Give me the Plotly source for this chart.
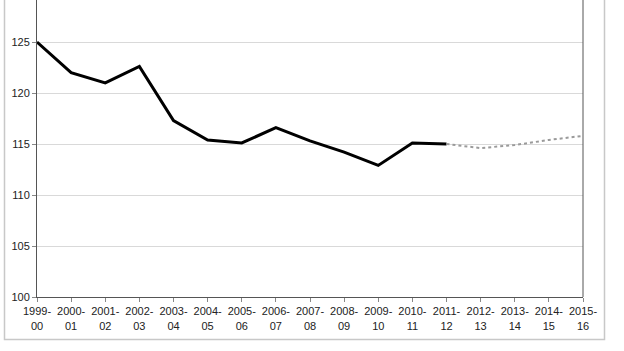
import plotly.graph_objects as go

years = ["1999-00", "2000-01", "2001-02", "2002-03", "2003-04", "2004-05", "2005-06",
         "2006-07", "2007-08", "2008-09", "2009-10", "2010-11", "2011-12", "2012-13",
         "2013-14", "2014-15", "2015-16"]
actual = [125.0, 122.0, 121.0, 122.6, 117.3, 115.4, 115.1, 116.6, 115.3, 114.2, 112.9, 115.1, 115.0]
projected = [115.0, 114.6, 114.9, 115.4, 115.8]
y_ticks = [100, 105, 110, 115, 120, 125]

x_idx = list(range(len(years)))
ticktext = [y.replace("-", "-<br>") for y in years]

fig = go.Figure()
fig.add_trace(go.Scatter(x=x_idx[:len(actual)], y=actual, mode="lines",
                         line=dict(color="black", width=3)))
fig.add_trace(go.Scatter(x=x_idx[len(actual) - 1:], y=projected, mode="lines",
                         line=dict(color="#9a9a9a", width=2, dash="dot")))

L, R, T, B = 37, 41, 0, 54
W, H = 624, 351
pw, ph = W - L - R, H - T - B

def px_x(p):
    return (p - L) / pw

def px_y(p):
    return (H - B - p) / ph

fig.update_layout(
    width=W, height=H, margin=dict(l=L, r=R, t=T, b=B),
    paper_bgcolor="white", plot_bgcolor="white", showlegend=False,
    font=dict(family="Liberation Sans, Arial, sans-serif", size=11, color="#222"),
    xaxis=dict(range=[0, len(years) - 1], tickvals=x_idx, ticktext=ticktext,
               showgrid=False, showline=True, linecolor="#555", linewidth=1,
               ticks="outside", ticklen=4, tickcolor="#888", zeroline=False),
    yaxis=dict(range=[100, 129.12], tickvals=y_ticks, showgrid=True, gridcolor="#d9d9d9",
               gridwidth=1, showline=True, linecolor="#555", linewidth=1,
               ticks="outside", ticklen=4, tickcolor="#888", zeroline=False),
)

# plot area right border
fig.add_shape(type="line", xref="paper", yref="paper", x0=1, x1=1, y0=0, y1=1,
              line=dict(color="#555", width=1))
# outer chart border
fig.add_shape(type="rect", xref="paper", yref="paper",
              x0=px_x(4.5), x1=px_x(604.5), y0=px_y(339.5), y1=px_y(-5),
              line=dict(color="#c8c8c8", width=1.5), layer="below")

fig.write_html("out.html")
